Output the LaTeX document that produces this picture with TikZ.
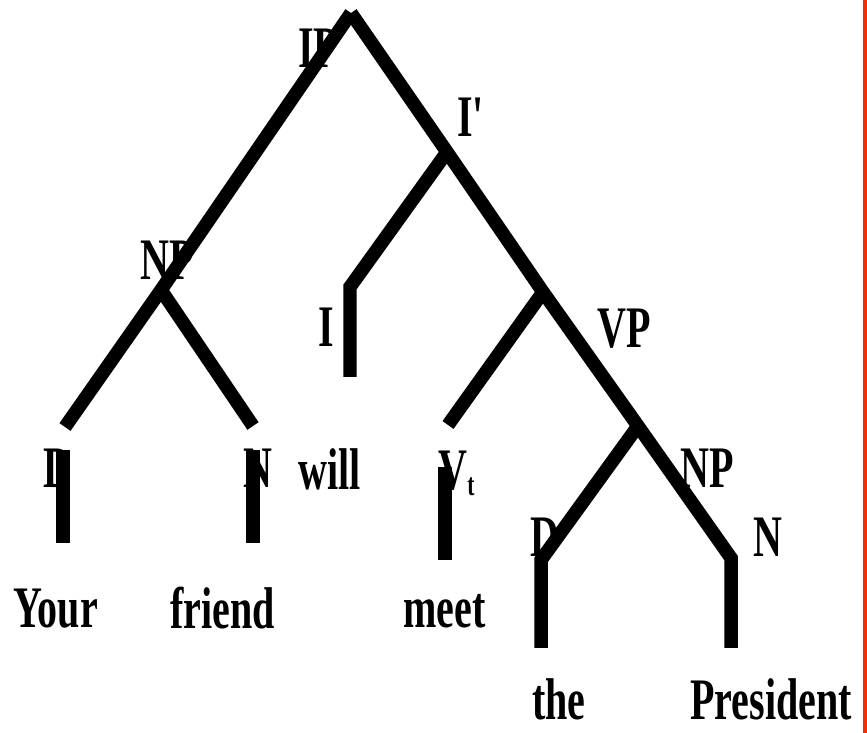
\documentclass[tikz,border=0pt]{standalone}
\usepackage{fontspec}
\setmainfont{Liberation Serif}[FakeStretch=0.68]
\usetikzlibrary{positioning}
\definecolor{edge}{HTML}{FF2A00}

\begin{document}
\begin{tikzpicture}[x=0.02cm, y=-0.02cm, font=\fontsize{33.5}{40}\selectfont\bfseries,
  lbl/.style={inner sep=0pt, anchor=base west, text depth=0pt},
  branch/.style={line width=0.27cm}]
  \useasboundingbox (0,0) rectangle (867,733);
  \fill[edge] (863,0) rectangle (867,733);
  % category labels
  \node[lbl] (IP) at (298,68) {IP};
  \node[lbl] (Ibar) at (457,137) {I\textquotesingle};
  \node[lbl] (NPsubj) at (140,280) {NP};
  \node[lbl] (I) at (318,347) {I};
  \node[lbl] (VP) at (597,348) {VP};
  \node[lbl] (Dsubj) at (43,488) {D};
  \node[lbl] (Nsubj) at (243,488) {N};
  \node[lbl] (will) at (298,490) {will};
  \node[lbl] (V) at (438,490) {V\raisebox{-8\pgflinewidth}{\fontsize{18}{20}\selectfont t}};
  \node[lbl] (NPobj) at (680,488) {NP};
  \node[lbl] (Dobj) at (530,557) {D};
  \node[lbl] (Nobj) at (753,557) {N};
  % words
  \node[lbl] (your) at (13,628) {Your};
  \node[lbl] (friend) at (170,629) {friend};
  \node[lbl] (meet) at (403,628) {meet};
  \node[lbl] (the) at (532,720) {the};
  \node[lbl] (president) at (690,720) {President};
  % junctions and branch ends
  \coordinate (top) at (351,13);
  \coordinate (ibarj) at (447,152);
  \coordinate (vpj) at (543,292);
  \coordinate (npobjj) at (638,426);
  \coordinate (nobjend) at (731,558);
  \coordinate (npj) at (161,290);
  \coordinate (dsubjend) at (65,427);
  \coordinate (nsubjend) at (253,426);
  \coordinate (iend) at (350,287);
  \coordinate (ibot) at (350,377);
  \coordinate (vend) at (448,425);
  \coordinate (dobjend) at (541,560);
  \coordinate (dobjbot) at (541,648);
  \coordinate (nobjbot) at (731,648);
  % branches
  \draw[branch] (top) -- (npj) -- (dsubjend);
  \draw[branch] (npj) -- (nsubjend);
  \draw[branch] (top) -- (ibarj) -- (vpj) -- (npobjj) -- (nobjend) -- (nobjbot);
  \draw[branch] (ibarj) -- (iend) -- (ibot);
  \draw[branch] (vpj) -- (vend);
  \draw[branch] (npobjj) -- (dobjend) -- (dobjbot);
  % bars under the lower labels
  \draw[branch] (63,450) coordinate (dsubjtop) -- (63,543) coordinate (dsubjbot);
  \draw[branch] (253,450) coordinate (nsubjtop) -- (253,543) coordinate (nsubjbot);
  \draw[branch] (445,467) coordinate (vtop) -- (445,560) coordinate (vbot);
\end{tikzpicture}
\end{document}
